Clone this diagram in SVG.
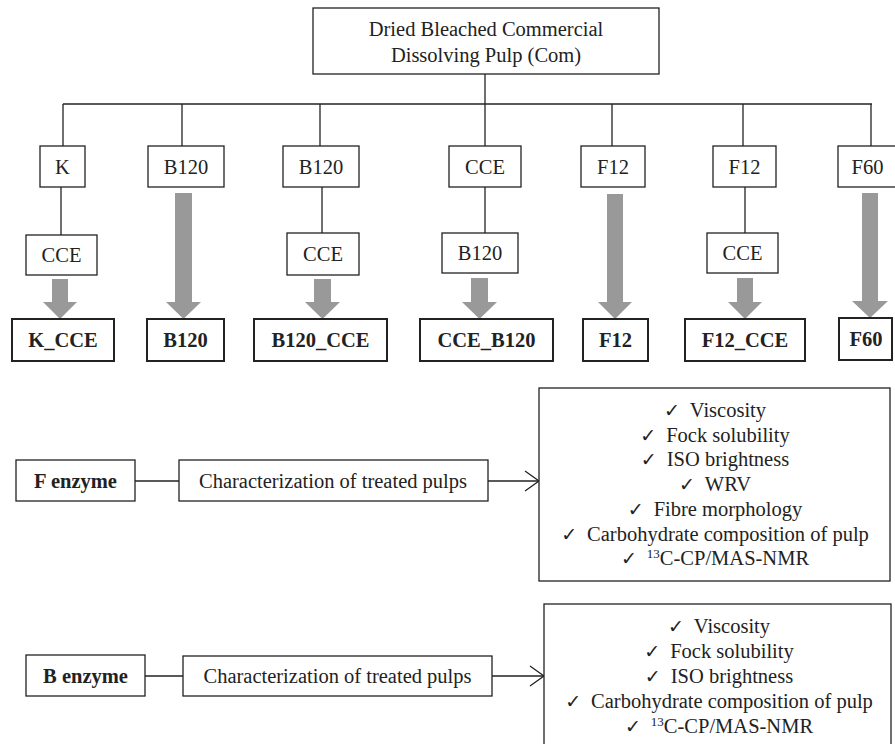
<svg xmlns="http://www.w3.org/2000/svg" width="895" height="744" viewBox="0 0 895 744" font-family="Liberation Serif, DejaVu Serif, serif">
<style>
  .box { fill: #fff; stroke: #222; stroke-width: 1.3; }
  .bbox { fill: #fff; stroke: #222; stroke-width: 2; }
  .t { font-size: 20.5px; fill: #222; text-anchor: middle; }
  .b { font-weight: bold; }
  .ck { font-family: 'DejaVu Sans', sans-serif; font-size: 19px; }
  .sup { font-size: 13px; }
  .ln { stroke: #222; stroke-width: 1.3; fill: none; }
  .ga { fill: #999; stroke: none; }
</style>

<g id="connectors">
  <line class="ln" x1="485" y1="74" x2="485" y2="104"/>
  <line class="ln" x1="63" y1="104" x2="872" y2="104"/>
  <line class="ln" x1="63" y1="104" x2="63" y2="146"/>
  <line class="ln" x1="182" y1="104" x2="182" y2="146"/>
  <line class="ln" x1="320" y1="104" x2="320" y2="146"/>
  <line class="ln" x1="485" y1="104" x2="485" y2="146"/>
  <line class="ln" x1="612" y1="104" x2="612" y2="146"/>
  <line class="ln" x1="743" y1="104" x2="743" y2="146"/>
  <line class="ln" x1="871" y1="104" x2="871" y2="146"/>
  <line class="ln" x1="61" y1="187" x2="61" y2="235"/>
  <line class="ln" x1="322" y1="187" x2="322" y2="233"/>
  <line class="ln" x1="485" y1="187" x2="485" y2="233"/>
  <line class="ln" x1="745" y1="187" x2="745" y2="233"/>
  <polygon class="ga" points="52,279 68,279 68,302 77,302 60,319 43,302 52,302"/>
  <polygon class="ga" points="175,193 192,193 192,302 201,302 183.5,319 166,302 175,302"/>
  <polygon class="ga" points="314,279 331,279 331,302 340,302 322.5,319 305,302 314,302"/>
  <polygon class="ga" points="471,278 488,278 488,302 497,302 479.5,319 462,302 471,302"/>
  <polygon class="ga" points="607,194 623,194 623,302 632,302 615,319 598,302 607,302"/>
  <polygon class="ga" points="737,278 753,278 753,302 762,302 745,319 728,302 737,302"/>
  <polygon class="ga" points="862,193 878,193 878,301 888,301 870,318 852,301 862,301"/>
  <line class="ln" x1="135" y1="481" x2="179" y2="481"/>
  <line class="ln" x1="488" y1="481" x2="539" y2="481"/>
  <polyline class="ln" points="525,471 539,481 525,491"/>
  <line class="ln" x1="145" y1="676" x2="183" y2="676"/>
  <line class="ln" x1="492" y1="676" x2="544" y2="676"/>
  <polyline class="ln" points="530,666 544,676 530,686"/>
</g>

<g id="com">
  <rect class="box" x="313" y="8" width="346" height="66"/>
  <text class="t" x="486" y="35.5">Dried Bleached Commercial</text>
  <text class="t" x="486" y="62">Dissolving Pulp (Com)</text>
</g>

<g id="k"><rect class="box" x="40" y="146" width="45" height="41"/><text class="t" x="62.5" y="174">K</text></g>
<g id="b120a"><rect class="box" x="148" y="146" width="76" height="41"/><text class="t" x="186" y="174">B120</text></g>
<g id="b120b"><rect class="box" x="283" y="146" width="76" height="41"/><text class="t" x="321" y="174">B120</text></g>
<g id="cce"><rect class="box" x="449" y="146" width="72" height="41"/><text class="t" x="485" y="174">CCE</text></g>
<g id="f12a"><rect class="box" x="581" y="146" width="64" height="41"/><text class="t" x="613" y="174">F12</text></g>
<g id="f12b"><rect class="box" x="713" y="146" width="63" height="41"/><text class="t" x="744.5" y="174">F12</text></g>
<g id="f60"><rect class="box" x="838" y="146" width="60" height="41"/><text class="t" x="867.5" y="174">F60</text></g>

<g id="k-cce-step"><rect class="box" x="26" y="235" width="71" height="40"/><text class="t" x="61.5" y="262">CCE</text></g>
<g id="b120-cce-step"><rect class="box" x="287" y="233" width="72" height="42"/><text class="t" x="323" y="261">CCE</text></g>
<g id="cce-b120-step"><rect class="box" x="442" y="233" width="76" height="40"/><text class="t" x="480" y="260">B120</text></g>
<g id="f12-cce-step"><rect class="box" x="707" y="233" width="71" height="40"/><text class="t" x="742.5" y="260">CCE</text></g>

<g id="r-k-cce"><rect class="bbox" x="12" y="319" width="102" height="42"/><text class="t b" x="63" y="347">K_CCE</text></g>
<g id="r-b120"><rect class="bbox" x="147" y="319" width="77" height="42"/><text class="t b" x="185.5" y="347">B120</text></g>
<g id="r-b120-cce"><rect class="bbox" x="254" y="319" width="133" height="42"/><text class="t b" x="320.5" y="347">B120_CCE</text></g>
<g id="r-cce-b120"><rect class="bbox" x="420" y="319" width="133" height="42"/><text class="t b" x="486.5" y="347">CCE_B120</text></g>
<g id="r-f12"><rect class="bbox" x="583" y="319" width="65" height="42"/><text class="t b" x="615.5" y="347">F12</text></g>
<g id="r-f12-cce"><rect class="bbox" x="685" y="319" width="120" height="42"/><text class="t b" x="745" y="347">F12_CCE</text></g>
<g id="r-f60"><rect class="bbox" x="839" y="318" width="53" height="42"/><text class="t b" x="866" y="346">F60</text></g>

<g id="f-enzyme"><rect class="box" x="16" y="460" width="119" height="41"/><text class="t b" x="75.5" y="488">F enzyme</text></g>
<g id="f-char"><rect class="box" x="179" y="460" width="309" height="41"/><text class="t" x="333" y="488">Characterization of treated pulps</text></g>
<g id="f-results">
  <rect class="box" x="539" y="388" width="351" height="193"/>
  <text class="t" x="715" y="417"><tspan class="ck">✓</tspan><tspan dx="10">Viscosity</tspan></text>
  <text class="t" x="715" y="442"><tspan class="ck">✓</tspan><tspan dx="10">Fock solubility</tspan></text>
  <text class="t" x="715" y="466"><tspan class="ck">✓</tspan><tspan dx="10">ISO brightness</tspan></text>
  <text class="t" x="715" y="491"><tspan class="ck">✓</tspan><tspan dx="10">WRV</tspan></text>
  <text class="t" x="715" y="516"><tspan class="ck">✓</tspan><tspan dx="10">Fibre morphology</tspan></text>
  <text class="t" x="715" y="541"><tspan class="ck">✓</tspan><tspan dx="10">Carbohydrate composition of pulp</tspan></text>
  <text class="t" x="715" y="565"><tspan class="ck">✓</tspan><tspan dx="10" dy="-7" class="sup">13</tspan><tspan dy="7">C-CP/MAS-NMR</tspan></text>
</g>

<g id="b-enzyme"><rect class="box" x="26" y="655" width="119" height="41"/><text class="t b" x="85.5" y="683">B enzyme</text></g>
<g id="b-char"><rect class="box" x="183" y="656" width="309" height="40"/><text class="t" x="337.5" y="683">Characterization of treated pulps</text></g>
<g id="b-results">
  <rect class="box" x="544" y="604" width="347" height="160"/>
  <text class="t" x="719" y="633"><tspan class="ck">✓</tspan><tspan dx="10">Viscosity</tspan></text>
  <text class="t" x="719" y="658"><tspan class="ck">✓</tspan><tspan dx="10">Fock solubility</tspan></text>
  <text class="t" x="719" y="683"><tspan class="ck">✓</tspan><tspan dx="10">ISO brightness</tspan></text>
  <text class="t" x="719" y="708"><tspan class="ck">✓</tspan><tspan dx="10">Carbohydrate composition of pulp</tspan></text>
  <text class="t" x="719" y="733"><tspan class="ck">✓</tspan><tspan dx="10" dy="-7" class="sup">13</tspan><tspan dy="7">C-CP/MAS-NMR</tspan></text>
</g>
</svg>
